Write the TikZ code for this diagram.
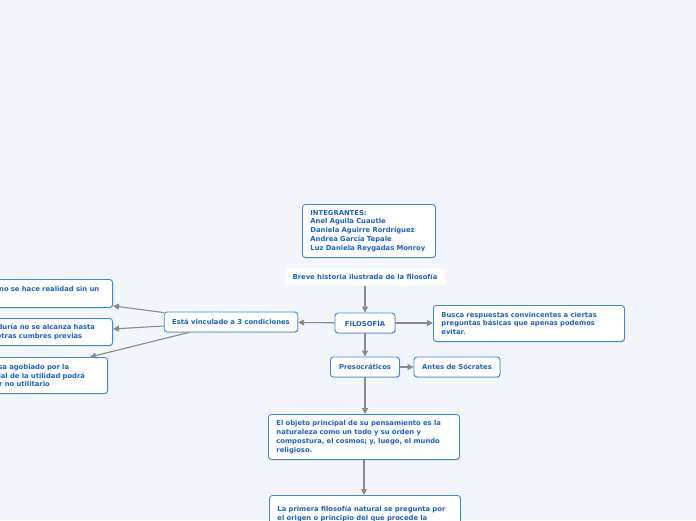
\documentclass[tikz,border=0pt]{standalone}
\usepackage{fontspec}
\setmainfont{DejaVu Sans}
\usetikzlibrary{arrows.meta,positioning,calc,shadows}
\definecolor{cBack}{HTML}{F3F5FD}
\definecolor{cEdge}{HTML}{3D87E6}
\definecolor{cText}{HTML}{1A62CF}
\definecolor{cLink}{HTML}{8A8A8A}
\tikzset{
  >={Triangle[length=6pt,width=6pt]},
  font=\bfseries\fontsize{6.8}{8.8}\selectfont,
  mbox/.style={draw=cEdge, fill=white, rounded corners=3pt, line width=0.9pt,
               text=cText, inner xsep=8pt, inner ysep=4pt, align=left,
               drop shadow={shadow xshift=0.6pt, shadow yshift=-0.8pt, opacity=0.35}},
  sbox/.style={mbox, align=center, minimum height=20pt},
  tbox/.style={fill=white, rounded corners=3pt, text=cText, inner xsep=8pt,
               minimum height=17pt},
  link/.style={->, draw=cLink, line width=1.1pt},
}

\begin{document}
\begin{tikzpicture}[x=1pt, y=-1pt]
  \fill[cBack] (0,0) rectangle (696,520);
  \useasboundingbox (0,0) rectangle (696,520);
  \clip (0,0) rectangle (696,520);
  % centre
  \node[mbox, anchor=north west, text width=117pt, minimum height=53pt] (integ) at (302,204)
    {INTEGRANTES:\\Anel Aguila Cuautle\\Daniela Aguirre Rordríguez\\Andrea García Tepale\\Luz Daniela Reygadas Monroy};
  \node[tbox] (titulo) at (365,277) {Breve historia ilustrada de la filosofía};
  \node[sbox, minimum width=60pt] (filo) at (365,323) {FILOSOFÍA};
  \node[sbox] (vinc) at (231,322) {Está vinculado a 3 condiciones};
  \node[mbox, anchor=north west, text width=175pt, minimum height=36pt] (busca) at (433,305)
    {Busca respuestas convincentes a ciertas\\preguntas básicas que apenas podemos\\evitar.};
  \node[sbox, minimum width=69pt] (preso) at (365,367) {Presocráticos};
  \node[sbox, minimum width=86pt] (antes) at (457,367) {Antes de Sócrates};
  \node[mbox, anchor=north west, text width=175pt, minimum height=45pt] (objeto) at (268,414)
    {El objeto principal de su pensamiento es la\\naturaleza como un todo y su orden y\\compostura, el cosmos; y, luego, el mundo\\religioso.};
  \node[mbox, anchor=north west, text width=175pt, minimum height=45pt] (primera) at (269,495)
    {La primera filosofía natural se pregunta por\\el origen o principio del que procede la\\totalidad de las cosas.};
  % condiciones
  \node[mbox, anchor=north east, text width=175pt, minimum height=28pt] (cond1) at (113,279)
    {La contemplación no se hace realidad sin un\\ocio previo};
  \node[mbox, anchor=north east, text width=134pt, minimum height=27pt] (cond2) at (113,318)
    {La sabiduría no se alcanza hasta\\sumar otras cumbres previas};
  \node[mbox, anchor=north east, text width=165pt, minimum height=36pt] (cond3) at (108,357)
    {Sólo quien no pasa agobiado por la\\necesidad material de la utilidad podrá\\alcanzar un saber no utilitario};
  % enlaces
  \draw[link] (titulo) -- (filo);
  \draw[link] (filo) -- (vinc);
  \draw[link] (filo) -- (busca.west |- filo);
  \draw[link] (filo) -- (preso);
  \draw[link] (preso) -- (antes);
  \draw[link] (preso) -- (objeto.north -| preso);
  \draw[link] (objeto) -- (objeto.south |- primera.north);
  \draw[link] ($(vinc.north west)+(0,1)$) -- ($(cond1.south east)+(0,-2)$);
  \draw[link] ($(vinc.west)+(0,4)$) -- ($(cond2.east)+(0,-3)$);
  \draw[link] ($(vinc.south west)+(25,0)$) -- ($(cond3.north east)+(-18,0)$);
\end{tikzpicture}
\end{document}
